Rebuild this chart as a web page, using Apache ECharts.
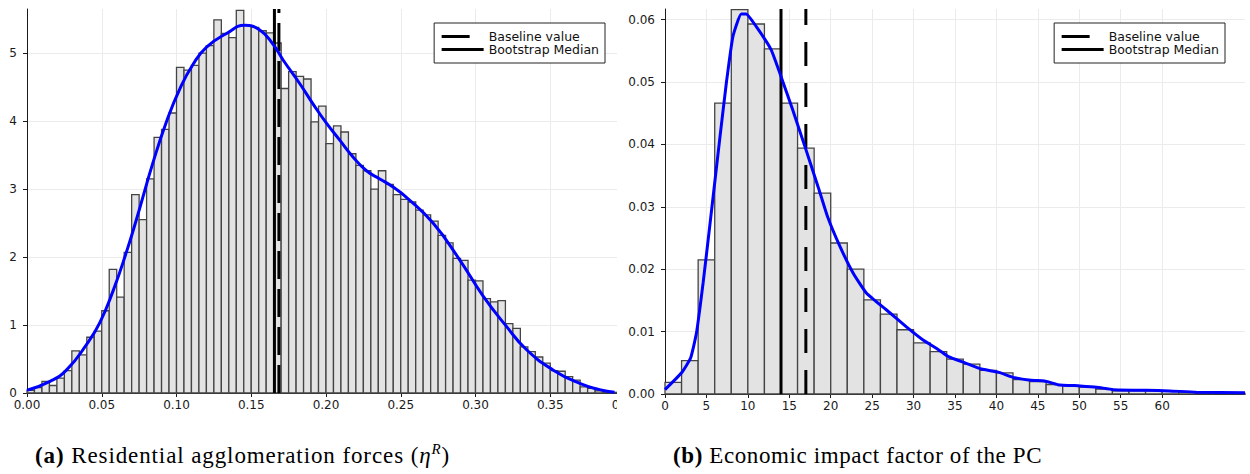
<!DOCTYPE html>
<html>
<head>
<meta charset="utf-8">
<script src="https://cdn.jsdelivr.net/npm/echarts@6/dist/echarts.min.js"></script>
<style>
  html, body { margin: 0; padding: 0; background: #fff; }
  #page { position: relative; width: 1250px; height: 474px; overflow: hidden; }
  #clipA { position: absolute; left: 0; top: 0; width: 617px; height: 420px; overflow: hidden; }
  #chartA { position: absolute; left: 0; top: 0; width: 660px; height: 420px; }
  #chartB { position: absolute; left: 620px; top: 0; width: 630px; height: 420px; }
  .caption {
    position: absolute; top: 444px; white-space: nowrap;
    font-family: "Liberation Serif", "Times New Roman", serif;
    font-size: 23px; line-height: 23px; letter-spacing: 0.6px; color: #000;
  }
  .caption b { font-weight: bold; }
  .caption sup { font-size: 15px; font-style: italic; vertical-align: 9px; line-height: 0; }
</style>
</head>
<body>
<div id="page">
  <div id="clipA"><div id="chartA"></div></div>
  <div id="chartB"></div>
  <div class="caption" style="left:35px; letter-spacing:0.9px"><b>(a)</b> Residential agglomeration forces (<i>η</i><sup>R</sup>)</div>
  <div class="caption" style="left:673px"><b>(b)</b> Economic impact factor of the PC</div>
</div>
<script>
// ---------- Panel (a): residential agglomeration forces ----------
const binStartA = 0;
const binWidthA = 0.005;
const densityA = [
  0.04, 0.08, 0.17, 0.11, 0.22, 0.33, 0.62, 0.56, 0.82, 0.91,
  1.21, 1.82, 1.41, 2.07, 2.92, 2.55, 3.15, 3.76, 3.88, 4.12,
  4.79, 4.75, 4.82, 5.00, 5.11, 5.49, 5.29, 5.23, 5.63, 5.41,
  5.38, 5.33, 5.30, 5.15, 4.48, 4.73, 4.66, 4.62, 3.99, 4.22,
  3.67, 3.93, 3.84, 3.52, 3.35, 3.27, 3.00, 3.27, 3.07, 2.92,
  2.85, 2.81, 2.69, 2.62, 2.53, 2.32, 2.21, 1.98, 1.95, 1.66,
  1.65, 1.39, 1.34, 1.36, 1.02, 0.95, 0.68, 0.61, 0.53, 0.44,
  0.33, 0.32, 0.24, 0.19, 0.09, 0.07, 0.03, 0.02, 0.01
];
const kdeXA = [0, 0.0154, 0.0265, 0.040, 0.0488, 0.0577, 0.0666, 0.0733, 0.0844, 0.0934,
  0.1023, 0.1112, 0.1201, 0.1335, 0.1457, 0.1557, 0.1646, 0.1713, 0.1825, 0.1914,
  0.2003, 0.2092, 0.2182, 0.2271, 0.2360, 0.2449, 0.2538, 0.2716, 0.2894, 0.305,
  0.3207, 0.334, 0.3518, 0.3697, 0.383, 0.393];
const kdeYA = [0.04, 0.17, 0.34, 0.72, 1.04, 1.51, 2.08, 2.56, 3.40, 4.00,
  4.48, 4.84, 5.09, 5.29, 5.41, 5.34, 5.13, 4.90, 4.55, 4.25,
  3.97, 3.72, 3.47, 3.27, 3.15, 3.03, 2.88, 2.50, 1.96, 1.43,
  0.98, 0.64, 0.34, 0.14, 0.05, 0.01];
const baselineA = 0.1685;
const medianA = 0.1655;
const xTicksA = [0, 0.05, 0.10, 0.15, 0.20, 0.25, 0.30, 0.35, 0.40];
const yTicksA = [0, 1, 2, 3, 4, 5];
const xRangeA = [0, 0.40];
const yRangeA = [0, 5.65];

// ---------- Panel (b): economic impact factor ----------
const binStartB = 0;
const binWidthB = 2;
const densityB = [
  0.00186, 0.00534, 0.0215, 0.0466, 0.0616, 0.0593, 0.0553, 0.0466, 0.0394, 0.0322,
  0.0242, 0.0200, 0.0151, 0.0128, 0.0103, 0.0082, 0.0068, 0.0056, 0.0048, 0.0038,
  0.0034, 0.0023, 0.0020, 0.0015, 0.0013, 0.0011, 0.0008, 0.0005, 0.0005, 0.0005,
  0.0005, 0.0003, 0.0002, 0.0001, 0.0001
];
const kdeXB = [0, 2.0, 3.1, 3.8, 4.6, 5.4, 6.6, 7.4, 8.2, 9.2,
  9.8, 11.0, 12.8, 14.0, 15.4, 17.0, 18.6, 19.6, 21.1, 22.7,
  24.3, 26.7, 29.1, 31.1, 33.0, 34.2, 36.2, 38.2, 40.2, 42.2,
  44.2, 45.8, 47.4, 50.1, 52.1, 54.1, 58.1, 60.9, 64.1, 70];
const kdeYB = [0.0007, 0.0034, 0.0058, 0.0098, 0.0178, 0.0269, 0.0408, 0.0498, 0.0573, 0.0609,
  0.0609, 0.0589, 0.0552, 0.0509, 0.0456, 0.0392, 0.0327, 0.0285, 0.0237, 0.0194,
  0.0162, 0.0135, 0.0108, 0.0087, 0.0071, 0.0060, 0.0050, 0.0040, 0.0035, 0.0026,
  0.0022, 0.0021, 0.0015, 0.0013, 0.0011, 0.0007, 0.0006, 0.0005, 0.0003, 0.0002];
const baselineB = 17.0;
const medianB = 14.0;
const xTicksB = [0, 5, 10, 15, 20, 25, 30, 35, 40, 45, 50, 55, 60];
const yTicksB = [0, 0.01, 0.02, 0.03, 0.04, 0.05, 0.06];
const xRangeB = [0, 70];
const yRangeB = [0, 0.0617];

// ---------- shared drawing helpers ----------
const FONT = 'DejaVu Sans';
const GRID_COLOR = '#ebebeb';
const AXIS_COLOR = '#1a1a1a';
const CLEAR = 'rgba(0,0,0,0)';

function binsOf(start, width, dens) {
  return dens.map((d, i) => [start + i * width, start + (i + 1) * width, d]);
}

function renderBin(params, api) {
  const lo = api.coord([api.value(0), api.value(2)]);
  const hi = api.coord([api.value(1), 0]);
  return {
    type: 'rect',
    shape: { x: lo[0], y: lo[1], width: hi[0] - lo[0], height: hi[1] - lo[1] },
    style: { fill: '#e3e3e3', stroke: '#444', lineWidth: 1.3 }
  };
}

function valueAxis(range, ticks, fmt, margin) {
  return {
    type: 'value', min: range[0], max: range[1],
    axisLine: { show: true, onZero: false, lineStyle: { color: AXIS_COLOR, width: 1 } },
    axisTick: { show: true, length: 4, customValues: ticks, lineStyle: { color: AXIS_COLOR, width: 1 } },
    axisLabel: {
      customValues: ticks, formatter: fmt, margin: margin,
      color: '#1a1a1a', fontFamily: FONT, fontSize: 12
    },
    splitLine: { show: true, lineStyle: { color: GRID_COLOR, width: 1 } }
  };
}

function panelOption(p) {
  return {
    animation: false,
    grid: p.grid,
    xAxis: valueAxis(p.xRange, p.xTicks, p.xFmt, 6),
    yAxis: valueAxis(p.yRange, p.yTicks, p.yFmt, 10),
    legend: {
      data: [
        // the key shows only the first dash of the dashed style
        { name: 'Baseline value', lineStyle: { type: [28, 30] } },
        { name: 'Bootstrap Median' }
      ],
      orient: 'vertical', right: p.legendRight, top: 23,
      itemWidth: 42, itemHeight: 13, itemGap: 0,
      padding: [7, 6, 7, 6],
      backgroundColor: '#fff', borderColor: '#222', borderWidth: 1, borderRadius: 0,
      selectedMode: false,
      itemStyle: { color: CLEAR, borderColor: CLEAR, borderWidth: 0 },
      lineStyle: { color: '#000', width: 3 },
      textStyle: { fontFamily: FONT, fontSize: 12.5, color: '#111' }
    },
    series: [
      {
        type: 'custom', name: 'histogram', renderItem: renderBin,
        data: binsOf(p.binStart, p.binWidth, p.density),
        encode: { x: [0, 1], y: 2 }, silent: true, z: 1
      },
      {
        type: 'line', name: 'Baseline value', showSymbol: false, symbol: 'none',
        data: [[p.baseline, p.yRange[0]], [p.baseline, p.yRange[1]]],
        itemStyle: { color: '#000' },
        lineStyle: { color: '#000', width: 3, type: p.dash }, silent: true, z: 3
      },
      {
        type: 'line', name: 'Bootstrap Median', showSymbol: false, symbol: 'none',
        data: [[p.median, p.yRange[0]], [p.median, p.yRange[1]]],
        itemStyle: { color: '#000' },
        lineStyle: { color: '#000', width: 3, type: 'solid' }, silent: true, z: 3
      },
      {
        type: 'line', name: 'density', showSymbol: false, symbol: 'none',
        smooth: p.smooth,
        data: p.kdeX.map((x, i) => [x, p.kdeY[i]]),
        lineStyle: { color: '#0000ff', width: 3 }, silent: true, z: 4
      }
    ]
  };
}

const chartA = echarts.init(document.getElementById('chartA'), null, { renderer: 'svg' });
chartA.setOption(panelOption({
  grid: { left: 27, top: 9, width: 598, height: 384 },
  xRange: xRangeA, yRange: yRangeA, xTicks: xTicksA, yTicks: yTicksA,
  xFmt: v => v.toFixed(2), yFmt: v => String(Math.round(v)),
  legendRight: 55,
  binStart: binStartA, binWidth: binWidthA, density: densityA,
  baseline: baselineA, median: medianA, dash: [28, 10],
  kdeX: kdeXA, kdeY: kdeYA, smooth: 0.5
}));

const chartB = echarts.init(document.getElementById('chartB'), null, { renderer: 'svg' });
chartB.setOption(panelOption({
  grid: { left: 45, top: 9, width: 580, height: 385 },
  xRange: xRangeB, yRange: yRangeB, xTicks: xTicksB, yTicks: yTicksB,
  xFmt: v => String(Math.round(v)), yFmt: v => v.toFixed(2),
  legendRight: 25,
  binStart: binStartB, binWidth: binWidthB, density: densityB,
  baseline: baselineB, median: medianB, dash: [24, 17],
  kdeX: kdeXB, kdeY: kdeYB, smooth: 0.15
}));
</script>
</body>
</html>
